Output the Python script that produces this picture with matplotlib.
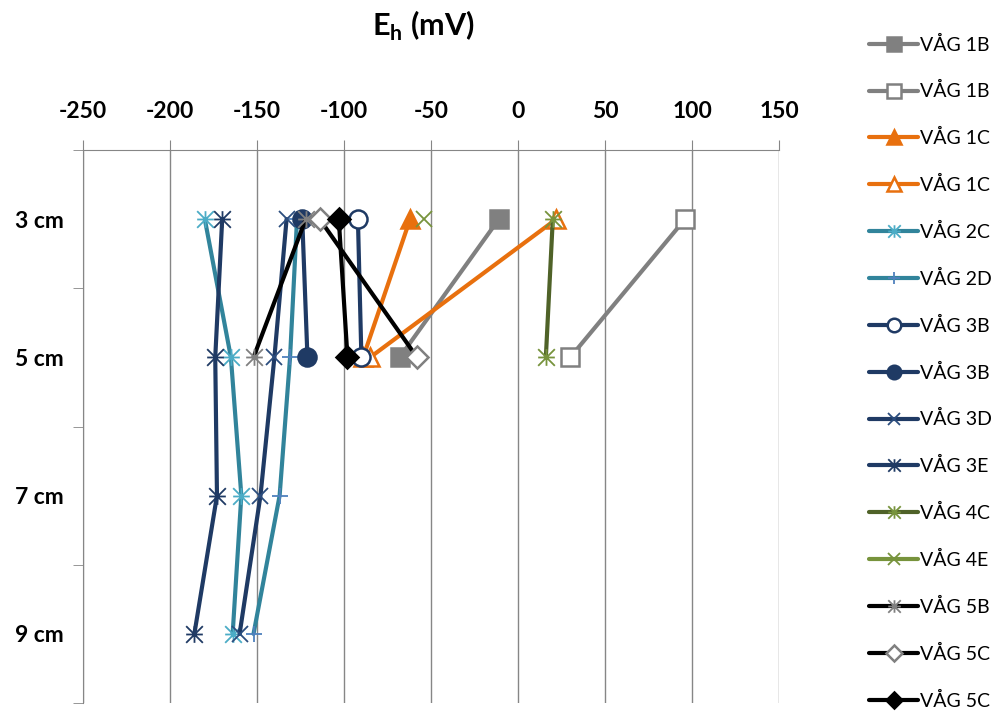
import numpy as np
import matplotlib
matplotlib.use('Agg')
from matplotlib import pyplot as plt
from matplotlib.path import Path

plt.rcParams['font.family'] = ['Lato', 'DejaVu Sans']
plt.rcParams['axes.unicode_minus'] = False

depths = ['3 cm', '5 cm', '7 cm', '9 cm']
nan = np.nan

# Eh values (mV) per depth
vag_1b_a = [-11, -68, nan, nan]
vag_1b_b = [96, 30, nan, nan]
vag_1c_a = [-62, -89, nan, nan]
vag_1c_b = [22, -85, nan, nan]
vag_2c = [-180, -165, -159, -164]
vag_2d = [-127, -131, -137, -152]
vag_3b_a = [-92, -90, nan, nan]
vag_3b_b = [-124, -121, nan, nan]
vag_3d = [-133, -140, -148, -160]
vag_3e = [-170, -174, -173, -186]
vag_4c = [20, 16, nan, nan]
vag_4e = [-54, nan, nan, nan]
vag_5b = [-122, -152, nan, nan]
vag_5c_a = [-114, -58, nan, nan]
vag_5c_b = [-103, -98, nan, nan]

# asterisk marker: X plus cross
ast = Path([(-1, -1), (1, 1), (-1, 1), (1, -1), (-1, 0), (1, 0), (0, -1), (0, 1)],
           [Path.MOVETO, Path.LINETO] * 4)

gray = '#808080'
orange = '#E8700E'
teal = '#31849B'
navy = '#1F3A64'
green = '#77933C'
olive = '#4F6228'

series = [
    ('VÅG 1B', vag_1b_a, gray, 's', gray, gray),
    ('VÅG 1B', vag_1b_b, gray, 's', 'white', gray),
    ('VÅG 1C', vag_1c_a, orange, '^', orange, orange),
    ('VÅG 1C', vag_1c_b, orange, '^', 'white', orange),
    ('VÅG 2C', vag_2c, teal, ast, 'none', '#4BACC6'),
    ('VÅG 2D', vag_2d, teal, '+', 'none', '#4F81BD'),
    ('VÅG 3B', vag_3b_a, navy, 'o', 'white', navy),
    ('VÅG 3B', vag_3b_b, navy, 'o', navy, navy),
    ('VÅG 3D', vag_3d, navy, 'x', 'none', '#2B4D7E'),
    ('VÅG 3E', vag_3e, navy, ast, 'none', navy),
    ('VÅG 4C', vag_4c, olive, ast, 'none', green),
    ('VÅG 4E', vag_4e, green, 'x', 'none', green),
    ('VÅG 5B', vag_5b, 'black', ast, 'none', gray),
    ('VÅG 5C', vag_5c_a, 'black', 'D', 'white', gray),
    ('VÅG 5C', vag_5c_b, 'black', 'D', 'black', 'black'),
]

fig = plt.figure(figsize=(9.95, 7.11), dpi=100)
ax = fig.add_axes([83 / 995, 1 - 703 / 711, (779 - 83) / 995, (703 - 150) / 711])

ypos = np.arange(len(depths))
handles = []
for label, vals, lc, mk, mfc, mec in series:
    if mk in ('s', 'o', '^'):
        ms = 13
    elif mk == 'D':
        ms = 11
    else:
        ms = 12
    h, = ax.plot(vals, ypos, color=lc, lw=3, marker=mk, ms=ms, mfc=mfc, mec=mec,
                 mew=1.8 if mfc != 'none' else 1.3, label=label, solid_capstyle='round')
    handles.append(h)

ax.set_xlim(-250, 150)
ax.set_ylim(3.5, -0.5)
ax.set_xticks(np.arange(-250, 151, 50))
ax.xaxis.tick_top()
ax.grid(axis='x', color='#868686', lw=1)
ax.set_axisbelow(True)
for s in ['right', 'bottom']:
    ax.spines[s].set_visible(False)
ax.spines['left'].set_color('#868686')
ax.spines['top'].set_color('#868686')
ax.set_yticks(ypos)
ax.set_yticklabels(depths)
ax.set_yticks(np.arange(-0.5, 3.6, 1), minor=True)
ax.tick_params(axis='y', which='major', length=0, pad=14, labelsize=16.5)
ax.tick_params(axis='y', which='minor', length=7, color='#868686', direction='out')
ax.tick_params(axis='x', length=7, color='#868686', direction='out', pad=13.5, labelsize=16.5)
for t in ax.get_xticklabels() + ax.get_yticklabels():
    t.set_fontweight('bold')

fig.text(0.4256, 0.963, r'E$_\mathregular{h}$ (mV)', ha='center', va='center',
         fontsize=22, fontweight='bold')

fig.legend(handles=handles, loc='upper left', bbox_to_anchor=(0.866, 0.961),
           frameon=False, fontsize=14, labelspacing=1.48, handlelength=2.5,
           handletextpad=0.1, markerscale=0.75, borderaxespad=0)

fig.savefig('out.png', dpi=100)
